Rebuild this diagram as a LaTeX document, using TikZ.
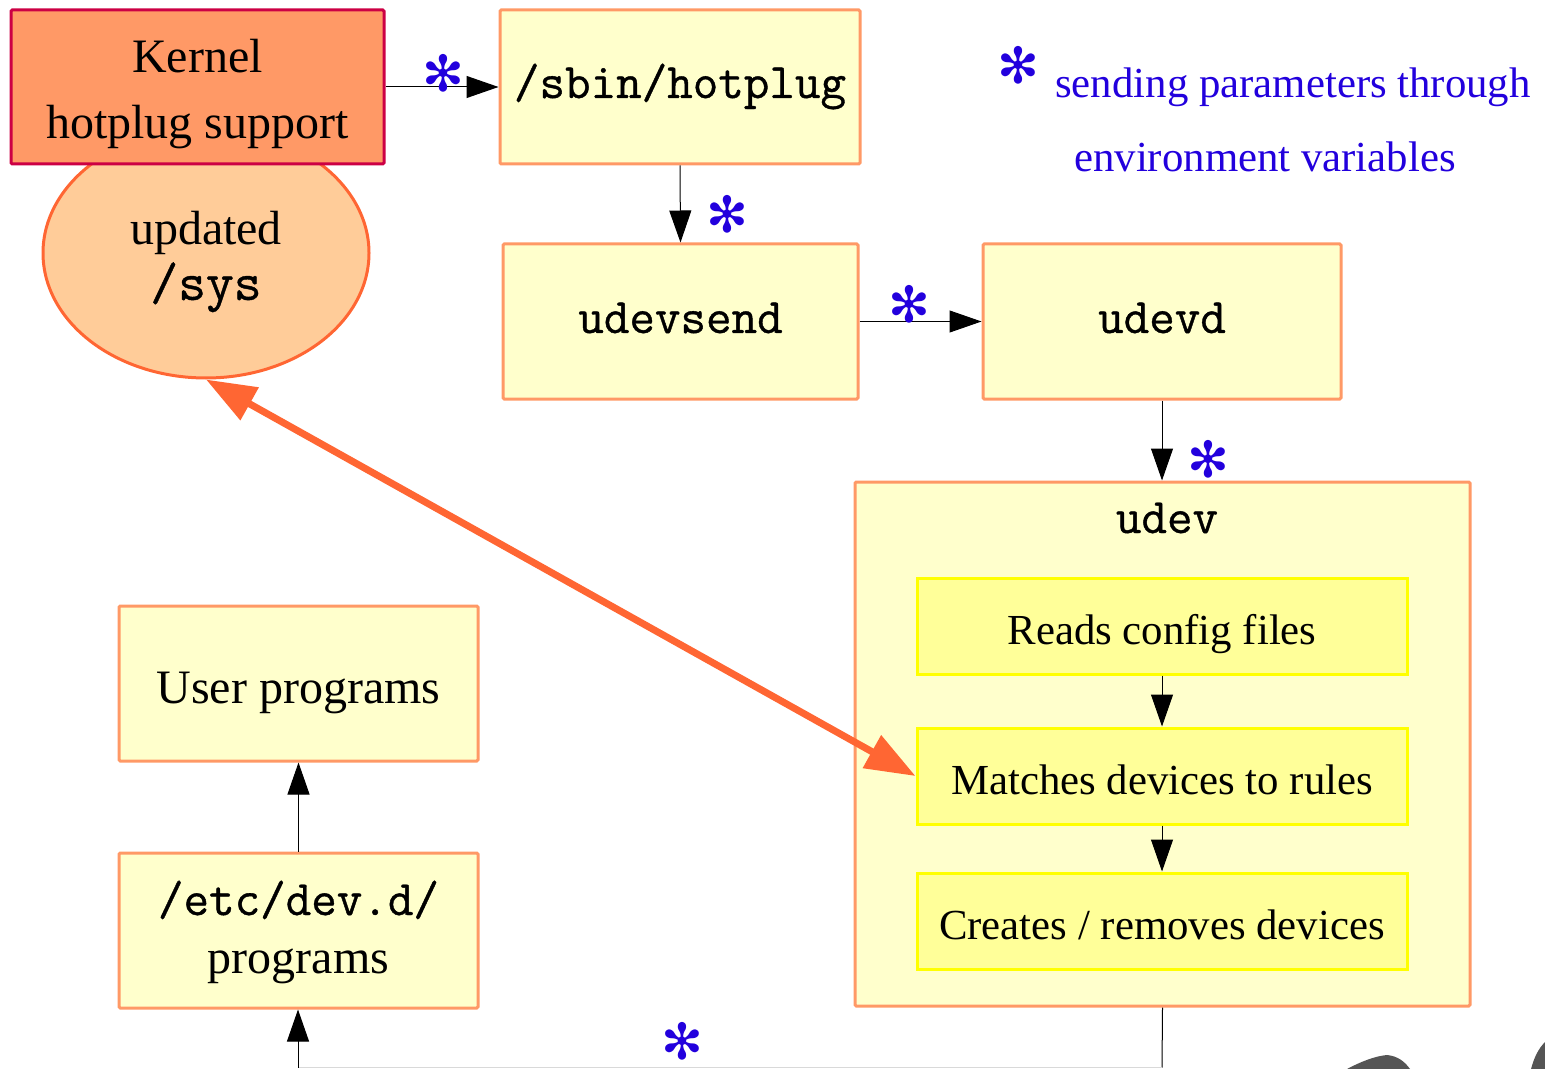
\documentclass[tikz,border=0pt]{standalone}
\usepackage{fontspec}
\setmainfont{Liberation Serif}
\newfontfamily\symfont{DejaVu Sans}
\newfontfamily\monofam{Latin Modern Mono}[FakeBold=0.8]
\usetikzlibrary{arrows.meta,shapes.geometric}
\definecolor{boxfill}{HTML}{FFFFCC}
\definecolor{boxline}{HTML}{FF9966}
\definecolor{kfill}{HTML}{FF9966}
\definecolor{kline}{HTML}{CC0044}
\definecolor{efill}{HTML}{FFCC99}
\definecolor{eline}{HTML}{FF6633}
\definecolor{ifill}{HTML}{FFFF99}
\definecolor{iline}{HTML}{FFFF00}
\definecolor{legblue}{HTML}{2200DD}
\definecolor{blob}{HTML}{555555}
\newcommand\mymono{\fontsize{24.8}{30}\selectfont\monofam}
\begin{document}
\begin{tikzpicture}[x=0.5pt,y=-0.5pt,
 box/.style={draw=boxline, fill=boxfill, line width=1.5pt, rounded corners=0.6pt, inner sep=0pt, align=center},
 kbox/.style={draw=kline, fill=kfill, line width=1.5pt, rounded corners=0.6pt, inner sep=0pt, align=center},
 ibox/.style={draw=iline, fill=ifill, line width=1.5pt, inner sep=0pt, minimum width=245pt, minimum height=48pt, font=\fontsize{21.4}{26}\selectfont, text height=18pt, text depth=0pt},
 bigtxt/.style={font=\fontsize{24}{32.8}\selectfont},
 monotxt/.style={font=\mymono, text height=11.5pt, text depth=0pt},
 conn/.style={line width=0.5pt, -{Triangle[length=16pt,width=11pt]}},
 starmark/.style={text=legblue, font=\fontsize{25}{25}\selectfont\symfont, inner sep=0pt, text depth=0pt},
 legtxt/.style={text=legblue, font=\fontsize{21.4}{26}\selectfont, inner sep=0pt, anchor=base},
]
\useasboundingbox (0,0) rectangle (1545,1069);

% ellipse (behind kernel box)
\node[ellipse, draw=eline, fill=efill, line width=1.5pt, minimum width=163pt, minimum height=125pt, inner sep=0pt, align=center, font=\fontsize{24}{27.5}\selectfont] (sys) at (206,253) {\rule{0pt}{25.5pt}updated\\{\fontsize{27}{27.5}\selectfont\monofam /sys}};

% boxes
\node[kbox, bigtxt, minimum width=186.5pt, minimum height=77pt] (kernel) at (197.5,87) {\rule{0pt}{23.7pt}Kernel\\hotplug support};
\node[box, monotxt, minimum width=180pt, minimum height=77pt, text height=11pt] (hotplug) at (680,87) {/sbin/hotplug};
\node[box, monotxt, minimum width=177.5pt, minimum height=77.5pt] (udevsend) at (680.5,321.5) {udevsend};
\node[box, monotxt, minimum width=179pt, minimum height=77.5pt] (udevd) at (1162,321.5) {udevd};
\node[box, minimum width=307.5pt, minimum height=262pt] (udev) at (1162.5,744) {};
\node[font=\mymono, inner sep=0pt, anchor=base] (udevtitle) at (1167,533) {udev};
\node[ibox] (reads) at (1162,626) {Reads config files};
\node[ibox] (match) at (1162,776) {Matches devices to rules};
\node[ibox] (creates) at (1162,921) {Creates / removes devices};
\node[box, font=\fontsize{24}{30}\selectfont, text height=19.5pt, text depth=0pt, minimum width=179.5pt, minimum height=77.5pt] (user) at (298.5,683.5) {User programs};
\node[box, font=\fontsize{24}{29}\selectfont, minimum width=179.5pt, minimum height=77.5pt] (devd) at (298.5,930.5) {\rule{0pt}{18.7pt}{\mymono /etc/dev.d/}\\programs};

% legend
\node[starmark] (legstar) at (1018,65) {✻};
\node[legtxt] (leg1) at (1293,98) {sending parameters through};
\node[legtxt] (leg2) at (1265,172) {environment variables};

% connectors
\draw[conn] (kernel.east) -- (hotplug.west);
\draw[conn] (hotplug.south) -- (udevsend.south |- udevsend.north);
\draw[conn] (udevsend.east) -- (udevd.west);
\draw[conn] (udevd.south) -- (udevd.south |- udev.north);
\draw[conn] (reads.south) -- (match.north);
\draw[conn] (match.south) -- (creates.north);
\draw[conn] (devd.north) -- (user.south);
\coordinate (br) at (1162,1067.5);
\coordinate (bl) at (298,1067.5);
\draw[line width=0.5pt] (udev.south) -- (br);
\draw[line width=0.8pt, black!15] (br) -- (bl);
\draw[conn] (bl) -- (bl |- devd.south);

% orange double arrow
\draw[line width=3.5pt, draw=eline, {Triangle[length=25pt,width=18pt,fill=eline]}-{Triangle[length=25pt,width=18pt,fill=eline]}] (sys.south) -- (match.west);

% asterisks
\node[starmark] (s1) at (443,73) {✻};
\node[starmark] (s2) at (727,214) {✻};
\node[starmark] (s3) at (909,304) {✻};
\node[starmark] (s4) at (1208,459) {✻};
\node[starmark] (s5) at (682,1041) {✻};

% stray grey shapes at the lower right edge
\fill[blob] (1347,1069) .. controls (1360,1062) and (1375,1056) .. (1387,1055) .. controls (1398,1056) and (1405,1062) .. (1410,1069) -- cycle;
\fill[blob] (1531,1069) .. controls (1534,1058) and (1538,1049) .. (1545,1042) -- (1545,1069) -- cycle;
\end{tikzpicture}
\end{document}
